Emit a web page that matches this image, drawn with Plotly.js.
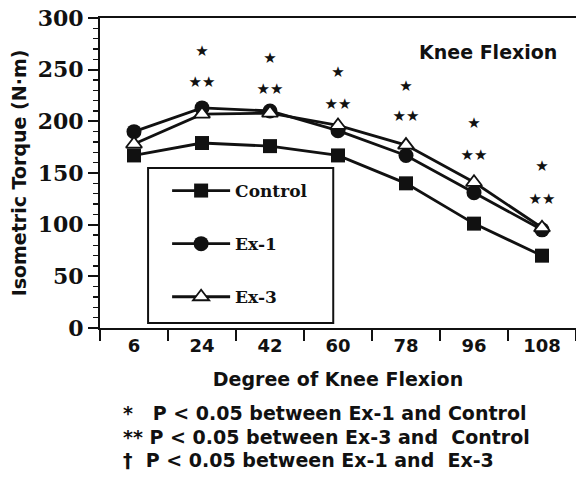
<!DOCTYPE html>
<html>
<head>
<meta charset="utf-8">
<script src="https://cdn.plot.ly/plotly-3.0.1.min.js"></script>
<style>html,body{margin:0;padding:0;background:#fff;}#chart{width:576px;height:501px;}</style>
</head>
<body>
<div id="chart"></div>
<script>
// Data
const angles = ['6', '24', '42', '60', '78', '96', '108'];
const control = [167, 179, 176, 167, 140, 101, 70];
const ex1 = [190, 213, 210, 191, 167, 131, 95];
const ex3 = [178, 207, 208, 196, 177, 141, 97];
// significance marker positions (N·m) per angle
const starAngles = ['24', '42', '60', '78', '96', '108'];
const singleStarY = [267, 260, 247, 233, 197, 156];
const doubleStarY = [237, 230, 216, 204, 166, 124];
const footnotes = [
  '*   P < 0.05 between Ex-1 and Control',
  '** P < 0.05 between Ex-3 and  Control',
  '†  P < 0.05 between Ex-1 and  Ex-3'
];

const ink = '#111';
const serifBold = {family: 'DejaVu Serif, Liberation Serif, serif', weight: 'bold', color: ink};
const sansBold = {family: 'DejaVu Sans, Liberation Sans, sans-serif', weight: 'bold', color: ink};

const traces = [
  {x: angles, y: control, name: 'Control', mode: 'lines+markers', legendgroup: 'a',
   line: {color: ink, width: 2.8}, marker: {symbol: 'square', size: 14, color: ink}},
  {x: angles, y: ex1, name: 'Ex-1', mode: 'lines+markers', legendgroup: 'b',
   line: {color: ink, width: 2.8}, marker: {symbol: 'circle', size: 15, color: ink}},
  {x: angles, y: ex3, name: 'Ex-3', mode: 'lines+markers', legendgroup: 'c',
   line: {color: ink, width: 2.8}, marker: {symbol: 'triangle-up', size: 14, color: '#fff', line: {color: ink, width: 1.8}}},
  {x: starAngles, y: singleStarY, mode: 'text', text: starAngles.map(() => '★'), showlegend: false,
   textfont: {family: 'DejaVu Sans', size: 15, color: ink}, hoverinfo: 'skip'},
  {x: starAngles, y: doubleStarY, mode: 'text', text: starAngles.map(() => '★★'), showlegend: false,
   textfont: {family: 'DejaVu Sans', size: 15, color: ink}, hoverinfo: 'skip'}
];

const annotations = [
  {xref: 'paper', yref: 'paper', x: 0.965, y: 0.89, xanchor: 'right', yanchor: 'middle',
   text: 'Knee Flexion', showarrow: false, font: Object.assign({size: 19}, sansBold)}
];
footnotes.forEach((t, i) => {
  annotations.push({xref: 'paper', yref: 'paper', x: 0.045, y: -0.275 - i * 0.076, xanchor: 'left', yanchor: 'middle',
    text: t, showarrow: false, font: Object.assign({size: 19}, sansBold)});
});

const layout = {
  width: 576, height: 501,
  margin: {l: 100, r: 0, t: 18, b: 173},
  paper_bgcolor: '#fff', plot_bgcolor: '#fff',
  showlegend: true,
  legend: {x: 0.141, y: 0.50, xanchor: 'left', yanchor: 'top', bgcolor: 'rgba(0,0,0,0)', borderwidth: 0,
    tracegroupgap: 28, font: Object.assign({size: 17}, serifBold), itemwidth: 58},
  xaxis: {type: 'category', categoryorder: 'array', categoryarray: angles, range: [-0.5, 6.5],
    tickson: 'boundaries', ticks: 'outside', ticklen: 11, tickwidth: 2, tickcolor: ink,
    showline: true, linewidth: 2, linecolor: ink, mirror: true, showgrid: false, zeroline: false,
    tickfont: Object.assign({size: 18}, sansBold),
    title: {text: 'Degree of Knee Flexion', font: Object.assign({size: 19}, sansBold), standoff: 18}},
  yaxis: {range: [0, 300], dtick: 50, ticks: 'outside', ticklen: 10, tickwidth: 2, tickcolor: ink,
    minor: {dtick: 10, ticks: 'outside', ticklen: 5, tickwidth: 1.5, tickcolor: ink},
    showline: true, linewidth: 2, linecolor: ink, showgrid: false, zeroline: false,
    tickfont: Object.assign({size: 22}, serifBold),
    title: {text: 'Isometric Torque (N·m)', font: Object.assign({size: 19}, sansBold), standoff: 6}},
  shapes: [
    {type: 'rect', xref: 'paper', yref: 'paper', x0: 0.101, x1: 0.49, y0: 0.016, y1: 0.516,
     line: {color: ink, width: 2}, fillcolor: 'rgba(0,0,0,0)'}
  ],
  annotations: annotations
};

Plotly.newPlot('chart', traces, layout, {displayModeBar: false, staticPlot: true});
</script>
</body>
</html>
